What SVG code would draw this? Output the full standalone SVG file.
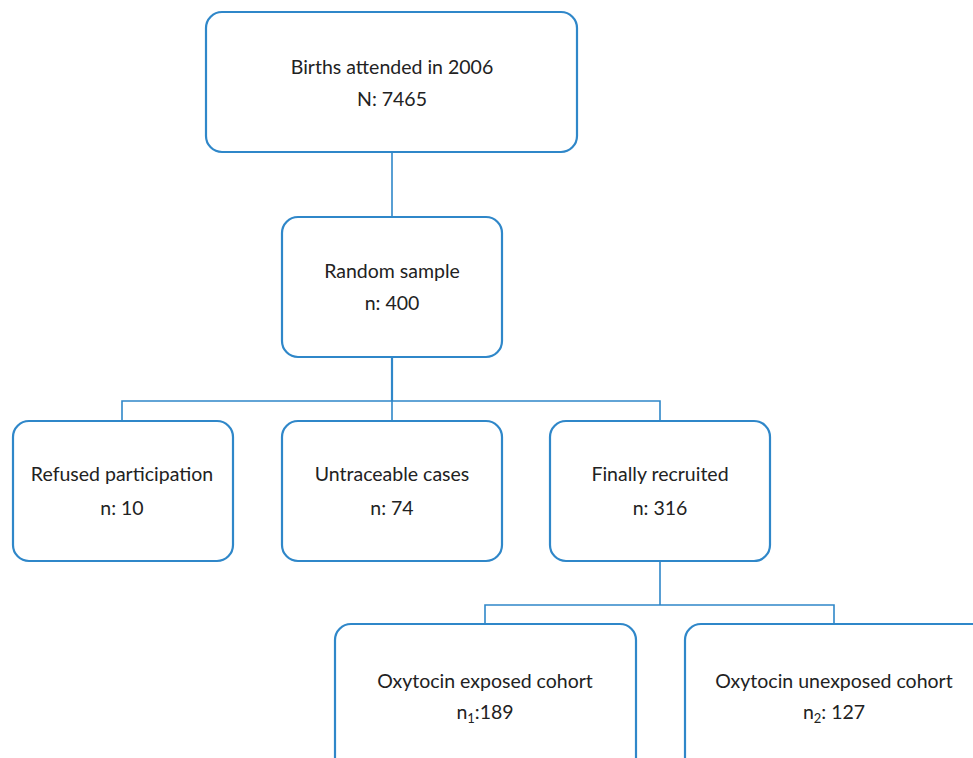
<svg xmlns="http://www.w3.org/2000/svg" width="973" height="758" viewBox="0 0 973 758">
<style>
.box{fill:#fff;stroke:#2f87c9;stroke-width:2.2}
.con{fill:none;stroke:#2f87c9;stroke-width:1.6}
text{font-family:Lato,"Open Sans",sans-serif;font-size:19.5px;fill:#222;text-anchor:middle}
</style>
<rect width="973" height="758" fill="#fff"/>
<g id="connectors" class="con">
<path d="M392,152V217"/>
<path d="M392,357V401" stroke-width="2.2"/>
<path d="M122,421V401H660V421M392,401V421"/>
<path d="M660,561V605"/>
<path d="M485,624V605H834V624"/>
</g>
<g id="births"><rect class="box" x="206" y="12" width="371" height="140" rx="16"/>
<text x="392" y="74">Births attended in 2006</text><text x="392" y="106">N: 7465</text></g>
<g id="random"><rect class="box" x="282" y="217" width="220" height="140" rx="16"/>
<text x="392" y="278">Random sample</text><text x="392" y="310">n: 400</text></g>
<g id="refused"><rect class="box" x="13" y="421" width="220" height="140" rx="16"/>
<text x="122" y="481">Refused participation</text><text x="122" y="515">n: 10</text></g>
<g id="untraceable"><rect class="box" x="282" y="421" width="220" height="140" rx="16"/>
<text x="392" y="481">Untraceable cases</text><text x="392" y="515">n: 74</text></g>
<g id="recruited"><rect class="box" x="550" y="421" width="220" height="140" rx="16"/>
<text x="660" y="481">Finally recruited</text><text x="660" y="515">n: 316</text></g>
<g id="exposed"><rect class="box" x="335" y="624" width="301" height="160" rx="16"/>
<text x="485" y="688">Oxytocin exposed cohort</text><text x="485" y="719">n<tspan font-size="13" dy="4">1</tspan><tspan dy="-4">:189</tspan></text></g>
<g id="unexposed"><rect class="box" x="685" y="624" width="320" height="160" rx="16"/>
<text x="834" y="688">Oxytocin unexposed cohort</text><text x="834" y="719">n<tspan font-size="13" dy="4">2</tspan><tspan dy="-4">: 127</tspan></text></g>
</svg>
